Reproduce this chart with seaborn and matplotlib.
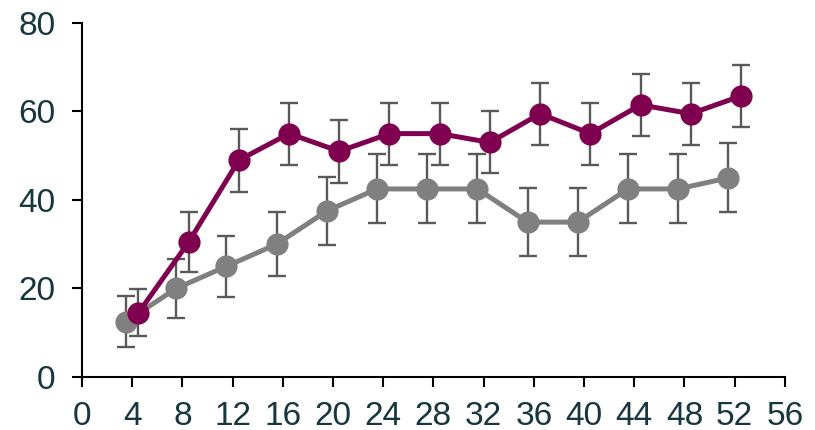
import matplotlib
matplotlib.use("Agg")
import matplotlib.pyplot as plt
import seaborn as sns
import pandas as pd
import numpy as np

# Weeks of measurement
weeks = [4, 8, 12, 16, 20, 24, 28, 32, 36, 40, 44, 48, 52]

# Group A (grey) means and error half-widths
grey_mean = [12.5, 20, 25, 30, 37.5, 42.5, 42.5, 42.5, 35, 35, 42.5, 42.5, 45]
grey_err = [5.7, 6.7, 6.9, 7.2, 7.6, 7.8, 7.8, 7.8, 7.6, 7.6, 7.8, 7.8, 7.8]

# Group B (purple) means and error half-widths
purple_mean = [14.5, 30.5, 49, 55, 51, 55, 55, 53, 59.5, 55, 61.5, 59.5, 63.5]
purple_err = [5.3, 6.8, 7.1, 7.0, 7.1, 7.0, 7.0, 7.0, 7.0, 7.0, 7.0, 7.0, 7.0]

x_ticks = list(range(0, 57, 4))
y_ticks = [0, 20, 40, 60, 80]

sns.set_theme(style="white")
plt.rcParams["font.family"] = ["Liberation Sans", "DejaVu Sans"]

fig = plt.figure(figsize=(8.15, 4.3), dpi=100)
ax = fig.add_axes([0.1006, 0.1233, 0.8624, 0.8232])

dodge = 0.5
series = [
    ("grey", grey_mean, grey_err, -dodge, "#808080"),
    ("purple", purple_mean, purple_err, dodge, "#800050"),
]

for name, mean, err, off, color in series:
    xs = np.array(weeks, dtype=float) + off
    ax.errorbar(xs, mean, yerr=err, fmt="none", ecolor="#595959",
                elinewidth=1.7, capsize=6.5, capthick=1.7, zorder=2)
    df = pd.DataFrame({"x": xs, "y": mean})
    sns.lineplot(data=df, x="x", y="y", ax=ax, color=color, linewidth=3.6,
                 marker="o", markersize=16, markeredgewidth=0,
                 markerfacecolor=color, zorder=3 if name == "grey" else 4)

ax.set_xlim(0, 56)
ax.set_ylim(0, 80)
ax.set_xticks(x_ticks)
ax.set_yticks(y_ticks)
ax.set_xlabel("")
ax.set_ylabel("")

for side in ["top", "right"]:
    ax.spines[side].set_visible(False)
for side in ["left", "bottom"]:
    ax.spines[side].set_color("black")
    ax.spines[side].set_linewidth(1.5)

ax.tick_params(axis="both", which="major", direction="out", length=7,
               width=1.5, color="black", labelsize=24, labelcolor="#17363d",
               bottom=True, left=True)
ax.tick_params(axis="x", pad=10)
ax.tick_params(axis="y", pad=12)

fig.savefig("out.png", dpi=100)
